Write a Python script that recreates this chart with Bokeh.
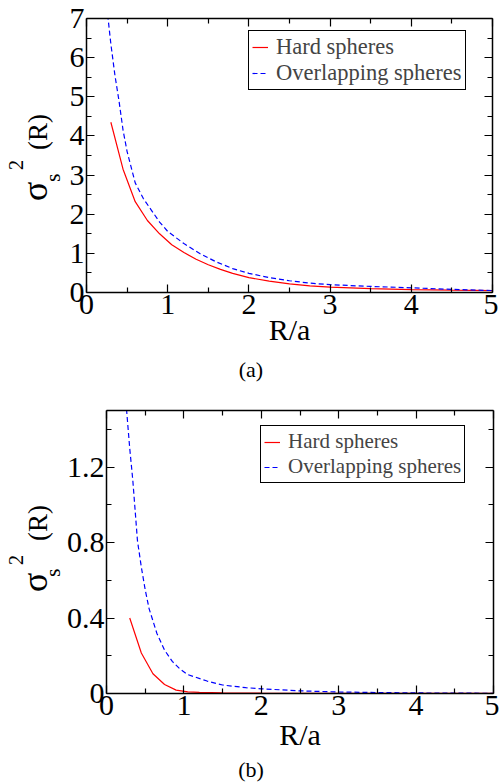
from bokeh.plotting import figure
from bokeh.models import (LinearAxis, FixedTicker, Range1d, Legend, LegendItem,
                          Div, CustomJSTickFormatter)
from bokeh.layouts import column, row
from bokeh.embed import file_html
from bokeh.resources import INLINE

# ---------------- data: panel (a) ----------------
r_hard_a = [0.30, 0.45, 0.60, 0.75, 0.90, 1.05, 1.20, 1.35, 1.50, 1.65, 1.80,
            2.00, 2.25, 2.50, 2.75, 3.00, 3.50, 4.00, 4.50, 5.00]
s_hard_a = [4.35, 3.15, 2.32, 1.84, 1.50, 1.22, 1.02, 0.85, 0.71, 0.59, 0.49,
            0.38, 0.29, 0.22, 0.17, 0.135, 0.10, 0.075, 0.06, 0.05]
r_over_a = [0.25, 0.30, 0.35, 0.40, 0.45, 0.50, 0.60, 0.70, 0.80, 0.90, 1.00,
            1.20, 1.40, 1.60, 1.80, 2.00, 2.25, 2.50, 2.75, 3.00, 3.50, 4.00,
            4.50, 5.00]
s_over_a = [7.30, 6.35, 5.55, 4.90, 4.15, 3.60, 2.80, 2.40, 2.10, 1.80, 1.56,
            1.25, 0.99, 0.78, 0.61, 0.49, 0.38, 0.30, 0.24, 0.20, 0.155, 0.12,
            0.08, 0.05]

# ---------------- data: panel (b) ----------------
r_hard_b = [0.30, 0.45, 0.60, 0.75, 0.90, 1.05, 1.20, 1.50, 2.00, 3.00, 4.00, 5.00]
s_hard_b = [0.40, 0.215, 0.105, 0.048, 0.018, 0.009, 0.006, 0.004, 0.002, 0.001,
            0.0005, 0.0003]
r_over_b = [0.25, 0.30, 0.34, 0.40, 0.45, 0.50, 0.55, 0.65, 0.75, 0.85, 0.95,
            1.05, 1.30, 1.50, 1.80, 2.00, 2.50, 3.00, 3.50, 4.00, 4.50, 5.00]
s_over_b = [1.55, 1.30, 1.13, 0.81, 0.67, 0.55, 0.45, 0.32, 0.23, 0.17, 0.13,
            0.10, 0.066, 0.045, 0.031, 0.025, 0.014, 0.008, 0.005, 0.003, 0.002,
            0.001]

x_major = [0, 1, 2, 3, 4, 5]
x_minor = [0.5, 1.5, 2.5, 3.5, 4.5]
ya_major = [0, 1, 2, 3, 4, 5, 6, 7]
ya_minor = [0.5, 1.5, 2.5, 3.5, 4.5, 5.5, 6.5]
yb_major = [0, 0.4, 0.8, 1.2]
yb_minor = [0.2, 0.6, 1.0, 1.4]
yb_labels = ["0", "0.4", "0.8", "1.2"]
legend_labels = ["Hard spheres", "Overlapping spheres"]
x_label = "R/a"
captions = ["(a)", "(b)"]

SERIF = "Liberation Serif"
BLANK = CustomJSTickFormatter(code="return ''")
LAB_W = 62  # width of the rotated y-label strip


def style_axis(ax, show_labels):
    ax.axis_line_width = 1.5
    ax.axis_line_color = "black"
    ax.major_tick_line_color = "black"
    ax.minor_tick_line_color = "black"
    ax.major_tick_line_width = 1.2
    ax.minor_tick_line_width = 1.2
    ax.major_tick_in = 8
    ax.major_tick_out = 0
    ax.minor_tick_in = 5
    ax.minor_tick_out = 0
    ax.major_label_text_font = SERIF
    ax.major_label_text_color = "black"
    ax.major_label_text_font_size = "30px"
    ax.major_label_standoff = 2
    if not show_labels:
        ax.formatter = BLANK
        ax.major_label_standoff = 0


def ylabel_div(width, height, parts):
    spans = []
    for txt, left, top, fs in parts:
        spans.append(
            f'<span style="position:absolute;left:{left}px;top:{top}px;'
            f'font-size:{fs}px;line-height:{fs}px;white-space:nowrap;'
            f'transform:rotate(-90deg);transform-origin:0 0;">{txt}</span>')
    html = (f'<div style="position:relative;width:{width}px;height:{height}px;'
            f'font-family:\'{SERIF}\';color:black;overflow:visible;">'
            + "".join(spans) + "</div>")
    return Div(text=html, width=width, height=height, margin=0,
               styles={"overflow": "visible"})


def caption_div(text, width, height, lh):
    html = (f'<div style="width:{width}px;height:{height}px;text-align:center;'
            f'font-family:\'{SERIF}\';font-size:22px;line-height:{lh}px;'
            f'color:black;overflow:visible;">{text}</div>')
    return Div(text=html, width=width, height=height, margin=0,
               styles={"overflow": "visible"})


def make_panel(rh, sh, ro, so, ymax, ymaj, ymin, ylabels, bl, bt, fw, fh, bb,
               lab_standoff, leg_xy, leg_font):
    p = figure(width=bl + fw + 6, height=bt + fh + bb, x_range=Range1d(0, 5),
               y_range=Range1d(0, ymax), output_backend="svg",
               toolbar_location=None, min_border_left=bl, min_border_right=6,
               min_border_top=bt, min_border_bottom=bb,
               background_fill_color="white", border_fill_color="white")
    p.outline_line_color = None
    p.xgrid.visible = False
    p.ygrid.visible = False

    p.xaxis.ticker = FixedTicker(ticks=x_major, minor_ticks=x_minor)
    p.yaxis.ticker = FixedTicker(ticks=ymaj, minor_ticks=ymin)
    for ax in p.xaxis + p.yaxis:
        style_axis(ax, True)
    if ylabels is not None:
        p.yaxis.major_label_overrides = {v: t for v, t in zip(ymaj, ylabels)}
    p.xaxis.axis_label = x_label
    p.xaxis.axis_label_text_font = SERIF
    p.xaxis.axis_label_text_font_style = "normal"
    p.xaxis.axis_label_text_font_size = "30px"
    p.xaxis.axis_label_text_color = "black"
    p.xaxis.axis_label_standoff = lab_standoff

    right = LinearAxis(ticker=FixedTicker(ticks=ymaj, minor_ticks=ymin))
    style_axis(right, False)
    p.add_layout(right, "right")
    top = LinearAxis(ticker=FixedTicker(ticks=x_major, minor_ticks=x_minor))
    style_axis(top, False)
    p.add_layout(top, "above")

    r1 = p.line(rh, sh, line_color="#ff0000", line_width=1.2)
    r2 = p.line(ro, so, line_color="#0000ff", line_width=1.2, line_dash="5 3")

    leg = Legend(items=[LegendItem(label=legend_labels[0], renderers=[r1]),
                        LegendItem(label=legend_labels[1], renderers=[r2])],
                 location=leg_xy, margin=0, padding=3, spacing=-2,
                 glyph_width=16, glyph_height=20, label_height=20,
                 label_standoff=8, label_text_font=SERIF,
                 label_text_font_size=leg_font, border_line_color="black",
                 border_line_width=1, border_line_alpha=1,
                 background_fill_color="white", background_fill_alpha=1)
    p.add_layout(leg)
    return p


# ---- panel (a): frame x 86..492, y 18..292 ----
pa = make_panel(r_hard_a, s_hard_a, r_over_a, s_over_a, 7, ya_major, ya_minor,
                None, 86 - LAB_W, 18, 406, 274, 68, -4, (162, 202), "22.5px")
ya = ylabel_div(LAB_W, 360, [("σ", 17, 201, 36), ("s", 42, 182, 22),
                             ("2", 6, 170, 20), ("(R)", 24.5, 150, 27)])
ca = caption_div(captions[0], 502, 25, 20)

# ---- panel (b): frame x 106..493, y 410..693 ----
pb = make_panel(r_hard_b, s_hard_b, r_over_b, s_over_b, 1.5, yb_major, yb_minor,
                yb_labels, 106 - LAB_W, 25, 387, 283, 72, 0, (154, 210), "21px")
yb = ylabel_div(LAB_W, 380, [("σ", 17, 207, 36), ("s", 42, 192, 22),
                             ("2", 6, 180, 20), ("(R)", 24.5, 156, 27)])
cb = caption_div(captions[1], 502, 18, 4)

layout = column(row(ya, pa, spacing=0), ca, row(yb, pb, spacing=0), cb,
                spacing=0)
open("out.html", "w").write(file_html(layout, INLINE))
